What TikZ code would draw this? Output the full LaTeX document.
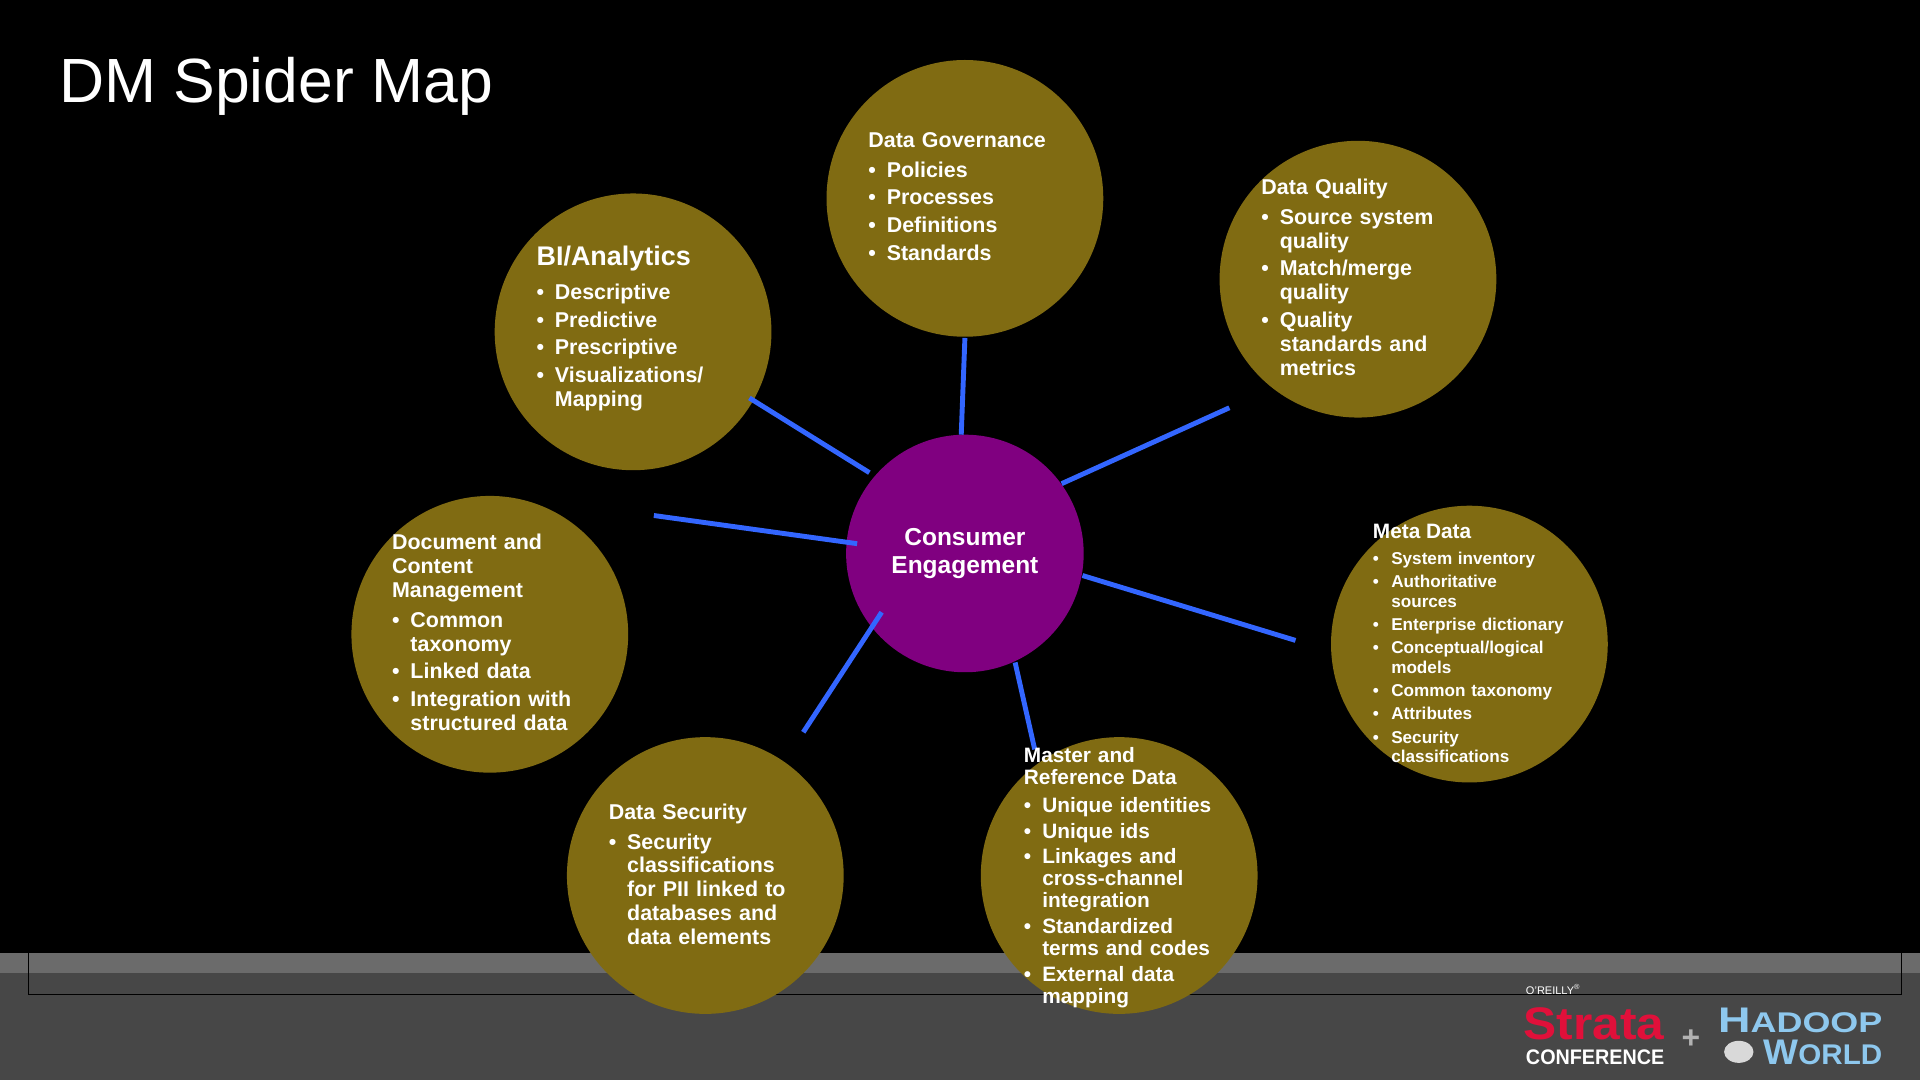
\documentclass[tikz,border=0pt]{standalone}
\usepackage{fontspec}
\setmainfont{Liberation Sans}
\begin{document}
\definecolor{olive}{RGB}{128,107,18}
\definecolor{purp}{RGB}{128,0,128}
\definecolor{lineblue}{RGB}{51,102,255}
\definecolor{strared}{RGB}{224,16,58}
\definecolor{hadblue}{RGB}{142,200,238}
\newcommand\itm[1]{\par\vspace{3pt}\hangindent=15pt\hangafter=1\noindent\makebox[15pt][l]{\textbullet}{\let\\\newline #1}\par}
\begin{tikzpicture}[x=1pt,y=-1pt,
  bub/.style={circle,fill=olive,minimum size=226pt,inner sep=0},
  txt/.style={anchor=north west,inner sep=0,text=white,font=\bfseries\fontsize{17.5}{19.5}\selectfont},
  small/.style={txt,font=\bfseries\fontsize{14}{16}\selectfont},
  link/.style={lineblue,line width=4pt}]
\useasboundingbox (0,0) rectangle (1568,882);
\fill[black] (0,0) rectangle (1568,882);
% bottom band
\fill[black!72] (0,778) rectangle (1568,882);
\fill[black!58] (0,778) rectangle (1568,795);
\draw[black,line width=1pt] (23,778) -- (23,812) -- (1553,812) -- (1553,778);
\node[anchor=base west,inner sep=0,text=white,font=\fontsize{51}{55}\selectfont] (title) at (48,84) {DM Spider Map};
% bubbles
\node[bub] (dg) at (788,162) {};
\node[bub] (bi) at (517,271) {};
\node[bub] (dq) at (1109,228) {};
\node[bub] (doc) at (400,518) {};
\node[bub] (meta) at (1200,526) {};
\node[bub] (sec) at (576,715) {};
\node[bub] (mdm) at (914,715) {};
\node[circle,fill=purp,minimum size=194pt,inner sep=0,text=white,align=center,font=\bfseries\fontsize{20}{23}\selectfont] (ce) at (788,452) {Consumer\\Engagement};
% connector end points
\coordinate (a1) at (788,276); \coordinate (a2) at (785,355);
\coordinate (b1) at (612,325); \coordinate (b2) at (710,386);
\coordinate (c1) at (1004,333); \coordinate (c2) at (867,395);
\coordinate (d1) at (534,421); \coordinate (d2) at (700,444);
\coordinate (e1) at (884,470); \coordinate (e2) at (1058,523);
\coordinate (f1) at (720,500); \coordinate (f2) at (656,598);
\coordinate (g1) at (829,541); \coordinate (g2) at (845,612);
\foreach \p/\q in {a1/a2,b1/b2,c1/c2,d1/d2,e1/e2,f1/f2,g1/g2} \draw[link] (\p) -- (\q);
% texts
\node[txt,text width=190pt] (tdg) at (709,108) {\raggedright Data Governance\par\vspace{2pt}\itm{Policies}\itm{Processes}\itm{Definitions}\itm{Standards}};
\node[txt,text width=190pt] (tbi) at (438,201) {\raggedright{\fontsize{22}{24}\selectfont BI/Analytics}\par\vspace{5pt}\itm{Descriptive}\itm{Predictive}\itm{Prescriptive}\itm{Visualizations/\\Mapping}};
\node[txt,text width=190pt] (tdq) at (1030,146) {\raggedright Data Quality\par\vspace{2pt}\itm{Source system\\quality}\itm{Match/merge\\quality}\itm{Quality\\standards and\\metrics}};
\node[txt,text width=200pt] (tdoc) at (320,436) {\raggedright Document and\\Content\\Management\par\vspace{2pt}\itm{Common\\taxonomy}\itm{Linked data}\itm{Integration with\\structured data}};
\node[small,text width=190pt] (tmeta) at (1121,428) {\raggedright{\fontsize{17}{18}\selectfont Meta Data}\par\vspace{2pt}%
\itm{System inventory}\itm{Authoritative\\sources}\itm{Enterprise dictionary}\itm{Conceptual/logical\\models}\itm{Common taxonomy}\itm{Attributes}\itm{Security\\classifications}};
\node[txt,text width=190pt] (tsec) at (497,656) {\raggedright Data Security\par\vspace{2pt}\itm{Security\\classifications\\for PII linked to\\databases and\\data elements}};
\node[txt,text width=190pt,font=\bfseries\fontsize{17}{18}\selectfont] (tmdm) at (836,610) {\raggedright Master and\\Reference Data\par\vspace{2pt}\itm{Unique identities}\itm{Unique ids}\itm{Linkages and\\cross-channel\\integration}\itm{Standardized\\terms and codes}\itm{External data\\mapping}};
% logo
\node[anchor=base west,inner sep=0,text=white,font=\fontsize{9}{10}\selectfont] (oreilly) at (1246,812) {O'REILLY\textsuperscript{®}};
\node[anchor=base west,inner sep=0,text=strared] (strata) at (1244,849) {\resizebox{115pt}{26pt}{\bfseries Strata}};
\node[anchor=base west,inner sep=0,text=white] (conf) at (1246,869) {\resizebox{113pt}{12pt}{\bfseries CONFERENCE}};
\node[text=black!30,font=\bfseries\fontsize{26}{26}\selectfont,inner sep=0] (plus) at (1381,849) {+};
\node[anchor=base west,inner sep=0,text=hadblue] (had) at (1403,843) {\resizebox{134pt}{20pt}{\bfseries H{\fontsize{8}{8}\selectfont ADOOP}}};
\node[anchor=base west,inner sep=0,text=hadblue] (world) at (1440,869) {\resizebox{97pt}{20pt}{\bfseries W{\fontsize{8}{8}\selectfont ORLD}}};
\fill[white!85!black] (1420,859) ellipse (12pt and 9pt);
\end{tikzpicture}
\end{document}
